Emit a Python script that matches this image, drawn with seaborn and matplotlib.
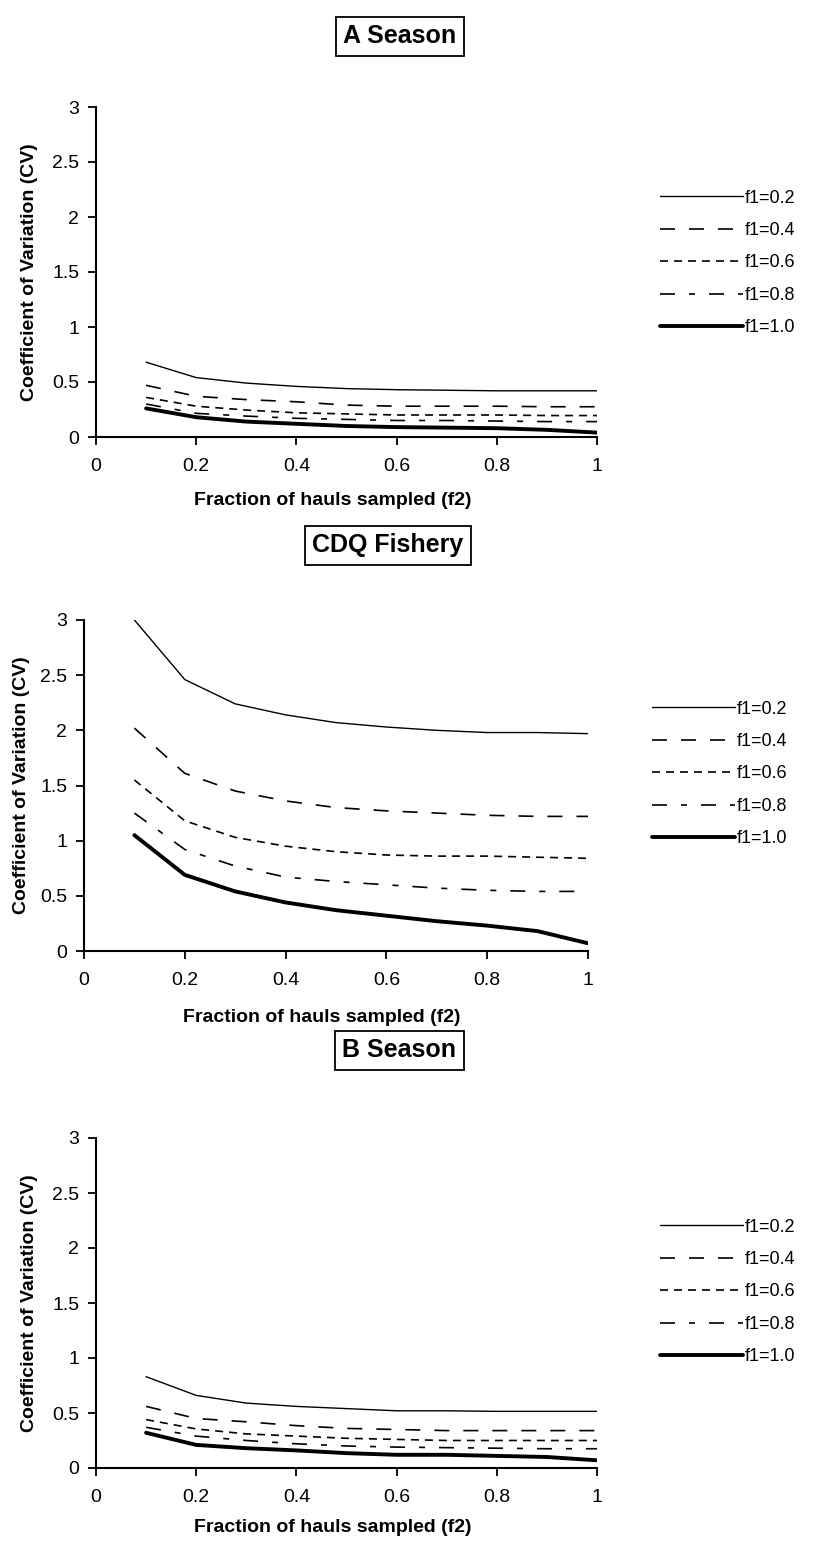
import numpy as np
import pandas as pd
import matplotlib
matplotlib.use("Agg")
import matplotlib.pyplot as plt
import seaborn as sns

# ---------------- data ----------------
f2 = [0.1, 0.2, 0.3, 0.4, 0.5, 0.6, 0.7, 0.8, 0.9, 1.0]
f1_levels = ["f1=0.2", "f1=0.4", "f1=0.6", "f1=0.8", "f1=1.0"]

a_season = {
    "f1=0.2": [0.68, 0.54, 0.49, 0.46, 0.44, 0.43, 0.425, 0.42, 0.42, 0.42],
    "f1=0.4": [0.47, 0.37, 0.34, 0.32, 0.29, 0.28, 0.28, 0.28, 0.275, 0.275],
    "f1=0.6": [0.36, 0.28, 0.245, 0.22, 0.21, 0.20, 0.20, 0.20, 0.195, 0.195],
    "f1=0.8": [0.30, 0.215, 0.19, 0.17, 0.16, 0.15, 0.15, 0.145, 0.14, 0.14],
    "f1=1.0": [0.26, 0.18, 0.14, 0.12, 0.10, 0.09, 0.085, 0.08, 0.065, 0.04],
}
cdq_fishery = {
    "f1=0.2": [3.0, 2.46, 2.24, 2.14, 2.07, 2.03, 2.0, 1.98, 1.98, 1.97],
    "f1=0.4": [2.02, 1.61, 1.45, 1.36, 1.30, 1.27, 1.25, 1.23, 1.22, 1.22],
    "f1=0.6": [1.55, 1.18, 1.03, 0.95, 0.90, 0.87, 0.86, 0.86, 0.85, 0.84],
    "f1=0.8": [1.25, 0.92, 0.77, 0.67, 0.63, 0.60, 0.57, 0.55, 0.54, 0.54],
    "f1=1.0": [1.05, 0.69, 0.54, 0.44, 0.37, 0.32, 0.27, 0.23, 0.18, 0.07],
}
b_season = {
    "f1=0.2": [0.83, 0.66, 0.59, 0.56, 0.54, 0.52, 0.52, 0.515, 0.515, 0.515],
    "f1=0.4": [0.56, 0.45, 0.42, 0.385, 0.36, 0.35, 0.34, 0.34, 0.34, 0.34],
    "f1=0.6": [0.44, 0.355, 0.31, 0.29, 0.27, 0.26, 0.25, 0.25, 0.25, 0.25],
    "f1=0.8": [0.37, 0.29, 0.25, 0.22, 0.20, 0.19, 0.185, 0.18, 0.175, 0.175],
    "f1=1.0": [0.32, 0.21, 0.18, 0.16, 0.135, 0.12, 0.12, 0.11, 0.10, 0.07],
}
titles = ["A Season", "CDQ Fishery", "B Season"]
xticks = [0, 0.2, 0.4, 0.6, 0.8, 1]
xticklabels = ["0", "0.2", "0.4", "0.6", "0.8", "1"]
yticks = [0, 0.5, 1, 1.5, 2, 2.5, 3]
yticklabels = ["0", "0.5", "1", "1.5", "2", "2.5", "3"]
xlabel = "Fraction of hauls sampled (f2)"
ylabel = "Coefficient of Variation (CV)"

# ---------------- style ----------------
sns.set_theme(style="white")
plt.rcParams["font.family"] = ["Liberation Sans", "DejaVu Sans"]

W, H = 813, 1547
fig = plt.figure(figsize=(W / 100, H / 100), dpi=100)

dashes = {
    "f1=0.2": "",
    "f1=0.4": (9, 8.4),
    "f1=0.6": (4.8, 3.6),
    "f1=0.8": (9, 8.4, 3.6, 8.4),
    "f1=1.0": "",
}
sizes = {"f1=0.2": 1.0, "f1=0.4": 1.2, "f1=0.6": 1.2, "f1=0.8": 1.2, "f1=1.0": 2.8}

# layout in pixels: (left, right, top, bottom) of axes, title centre, legend anchor, label positions
layout = [
    dict(ax=(96, 597, 107, 437), title=(400, 36), leg=(660, 263), xl=(333, 492), yl=38),
    dict(ax=(84, 588, 620, 951), title=(388, 545), leg=(652, 774), xl=(322, 1009), yl=30),
    dict(ax=(96, 597, 1138, 1468), title=(399, 1050), leg=(660, 1292), xl=(333, 1519), yl=38),
]

for data, title, lay in zip([a_season, cdq_fishery, b_season], titles, layout):
    l, r, t, b = lay["ax"]
    ax = fig.add_axes([l / W, 1 - b / H, (r - l) / W, (b - t) / H])
    df = pd.DataFrame(
        [(x, lvl, v) for lvl in f1_levels for x, v in zip(f2, data[lvl])],
        columns=["f2", "f1", "cv"],
    )
    sns.lineplot(
        data=df, x="f2", y="cv", style="f1", size="f1",
        style_order=f1_levels, size_order=f1_levels,
        dashes=dashes, sizes=sizes, color="black",
        errorbar=None, legend=False, ax=ax,
    )
    ax.set_xlim(0, 1)
    ax.set_ylim(0, 3)
    ax.set_xticks(xticks)
    ax.set_xticklabels(xticklabels)
    ax.set_yticks(yticks)
    ax.set_yticklabels(yticklabels)
    for s in ["top", "right"]:
        ax.spines[s].set_visible(False)
    for s in ["left", "bottom"]:
        ax.spines[s].set_color("black")
        ax.spines[s].set_linewidth(1.5)
    ax.tick_params(axis="both", which="major", direction="out", length=6, width=1.3,
                   colors="black", labelsize=14, bottom=True, left=True)
    ax.tick_params(axis="x", pad=9)
    ax.tick_params(axis="y", pad=6)

    ax.set_xlabel(xlabel, fontsize=14, fontweight="bold", color="black")
    ax.set_ylabel(ylabel, fontsize=14, fontweight="bold", color="black")
    xlx, xly = lay["xl"]
    ax.xaxis.set_label_coords((xlx - l) / (r - l), (b - xly) / (b - t))
    ax.yaxis.set_label_coords((lay["yl"] - l) / (r - l), 0.5)

    tx, ty = lay["title"]
    fig.text(tx / W, 1 - ty / H, title, ha="center", va="center", fontsize=18,
             fontweight="bold", color="black",
             bbox=dict(boxstyle="square,pad=0.3", fc="white", ec="black", lw=1.3))

    lx, ly = lay["leg"]
    handles = ax.lines[:5]
    leg = ax.legend(handles, f1_levels, loc="center left",
                    bbox_to_anchor=(lx / W, 1 - ly / H), bbox_transform=fig.transFigure,
                    frameon=False, fontsize=13, handlelength=4.6, handletextpad=0.1,
                    labelspacing=0.85, borderpad=0, borderaxespad=0)
    for txt in leg.get_texts():
        txt.set_color("black")

fig.savefig("out.png", dpi=100, facecolor="white")
